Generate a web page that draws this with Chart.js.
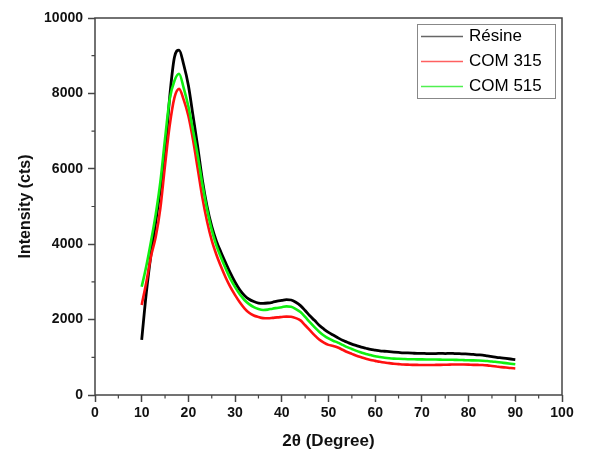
<!DOCTYPE html>
<html>
<head>
<meta charset="utf-8">
<script src="https://cdn.jsdelivr.net/npm/chart.js@4/dist/chart.umd.min.js"></script>
<style>
  html, body { margin: 0; padding: 0; background: #fff; }
  #xrd { display: block; }
</style>
</head>
<body>
<canvas id="xrd" width="589" height="457"></canvas>
<script>
// 2-theta positions (degrees)
const angles = [
  10, 11, 12, 13, 14, 15, 16, 17, 18, 19,
  20, 21, 22, 23, 24, 25, 26, 27, 28, 29,
  30, 31, 32, 33, 34, 35, 36, 37, 38, 39,
  40, 41, 42, 43, 44, 45, 46, 47, 48, 49,
  50, 51, 52, 53, 54, 55, 56, 57, 58, 59,
  60, 61, 62, 63, 64, 65, 66, 67, 68, 69,
  70, 71, 72, 73, 74, 75, 76, 77, 78, 79,
  80, 81, 82, 83, 84, 85, 86, 87, 88, 89, 90
];

const resine = [
  1460, 2725, 3740, 4590, 5460, 6410, 7910, 8950, 9150, 8760,
  8210, 7400, 6580, 5700, 5000, 4470, 4080, 3780, 3500, 3230,
  2990, 2790, 2640, 2540, 2480, 2440, 2430, 2440, 2460, 2490,
  2510, 2530, 2520, 2460, 2370, 2240, 2100, 1980, 1850, 1750,
  1660, 1590, 1520, 1450, 1400, 1350, 1310, 1270, 1240, 1210,
  1190, 1170, 1160, 1150, 1140, 1130, 1120, 1115, 1110, 1105,
  1105, 1100, 1100, 1100, 1105, 1100, 1105, 1100, 1095, 1090,
  1085, 1075, 1065, 1060, 1040, 1020, 1000, 985, 970, 955, 940
];

const com315 = [
  2390, 3000, 3680, 4190, 4960, 6100, 7150, 7880, 8120, 7830,
  7400, 6760, 6000, 5230, 4600, 4100, 3720, 3400, 3110, 2860,
  2650, 2460, 2300, 2180, 2110, 2070, 2040, 2035, 2045, 2060,
  2070, 2080, 2075, 2040, 1980, 1850, 1720, 1590, 1470, 1390,
  1330, 1300, 1260, 1200, 1140, 1090, 1040, 1000, 960, 930,
  905, 880, 860, 845, 830, 820, 810, 805, 800, 798,
  796, 795, 796, 798, 800, 803, 806, 810, 810, 808,
  805, 800, 798, 795, 785, 770, 755, 740, 728, 715, 705
];

const com515 = [
  2870, 3430, 4080, 4790, 5660, 6800, 7850, 8330, 8520, 8140,
  7650, 7010, 6350, 5590, 4930, 4380, 3960, 3640, 3350, 3080,
  2860, 2670, 2520, 2410, 2330, 2280, 2255, 2265, 2290, 2310,
  2330, 2350, 2340, 2280, 2200, 2070, 1930, 1800, 1680, 1580,
  1500, 1440, 1390, 1330, 1270, 1220, 1170, 1130, 1090, 1060,
  1030, 1010, 990, 975, 965, 960, 955, 950, 948, 946,
  945, 943, 940, 940, 938, 935, 935, 932, 930, 925,
  920, 918, 915, 910, 900, 890, 875, 860, 845, 830, 815
];

const seriesNames = ["Résine", "COM 315", "COM 515"];
const seriesColors = ["#000000", "#ff1010", "#10f010"];
const legendColors = ["#666666", "#ff6060", "#50f050"];

const xTicks = [0, 10, 20, 30, 40, 50, 60, 70, 80, 90, 100];
const yTicks = [0, 2000, 4000, 6000, 8000, 10000];

const FONT = "'Liberation Sans', Arial, sans-serif";
const AXIS = "#444";

function pts(ys) {
  return angles.map((a, i) => ({ x: a, y: ys[i] }));
}

// box frame, minor ticks and the boxed legend
const extras = {
  id: "extras",
  afterDraw(chart) {
    const { ctx, chartArea: a, scales } = chart;
    ctx.save();
    ctx.strokeStyle = AXIS;
    ctx.lineWidth = 1.5;
    ctx.strokeRect(a.left, a.top, a.right - a.left, a.bottom - a.top);

    ctx.lineWidth = 1.2;
    ctx.beginPath();
    for (let i = 0; i < xTicks.length - 1; i++) {
      const px = scales.x.getPixelForValue((xTicks[i] + xTicks[i + 1]) / 2);
      ctx.moveTo(px, a.bottom);
      ctx.lineTo(px, a.bottom + 3.5);
    }
    for (let i = 0; i < yTicks.length - 1; i++) {
      const py = scales.y.getPixelForValue((yTicks[i] + yTicks[i + 1]) / 2);
      ctx.moveTo(a.left, py);
      ctx.lineTo(a.left - 3.5, py);
    }
    ctx.stroke();

    // legend
    const bx = a.right - 145, by = a.top + 6, bw = 138, bh = 74;
    ctx.fillStyle = "#fff";
    ctx.fillRect(bx, by, bw, bh);
    ctx.strokeStyle = "#888";
    ctx.lineWidth = 1;
    ctx.strokeRect(bx + 0.5, by + 0.5, bw, bh);
    ctx.font = "17px " + FONT;
    ctx.textBaseline = "middle";
    seriesNames.forEach((name, i) => {
      const y = by + 12 + i * 25;
      ctx.strokeStyle = legendColors[i];
      ctx.lineWidth = 1.4;
      ctx.beginPath();
      ctx.moveTo(bx + 4, y + 0.5);
      ctx.lineTo(bx + 46, y + 0.5);
      ctx.stroke();
      ctx.fillStyle = "#000";
      ctx.fillText(name, bx + 52, y);
    });
    ctx.restore();
  }
};

new Chart(document.getElementById("xrd"), {
  type: "line",
  data: {
    datasets: [
      { label: seriesNames[0], data: pts(resine), borderColor: seriesColors[0], borderWidth: 2.8, order: 2 },
      { label: seriesNames[1], data: pts(com315), borderColor: seriesColors[1], borderWidth: 2.6, order: 1 },
      { label: seriesNames[2], data: pts(com515), borderColor: seriesColors[2], borderWidth: 2.6, order: 0 }
    ]
  },
  options: {
    responsive: false,
    animation: false,
    layout: { padding: { left: 0, right: 27, top: 18, bottom: 0 } },
    elements: { point: { radius: 0 }, line: { cubicInterpolationMode: "monotone" } },
    scales: {
      x: {
        type: "linear",
        min: 0,
        max: 100,
        afterBuildTicks: (s) => { s.ticks = xTicks.map((v) => ({ value: v })); },
        afterFit: (s) => { s.height = 62; },
        ticks: { color: "#111", font: { family: FONT, size: 14, weight: "bold" }, padding: 3, maxRotation: 0 },
        grid: { drawOnChartArea: false, tickLength: 7, tickColor: AXIS, tickWidth: 1.5 },
        border: { display: false },
        title: {
          display: true,
          text: "2θ (Degree)",
          color: "#111",
          font: { family: FONT, size: 17, weight: "bold" },
          padding: { top: 0, bottom: 5 }
        }
      },
      y: {
        min: 0,
        max: 10000,
        afterBuildTicks: (s) => { s.ticks = yTicks.map((v) => ({ value: v })); },
        afterFit: (s) => { s.width = 95; },
        ticks: {
          color: "#111",
          font: { family: FONT, size: 14, weight: "bold" },
          padding: 5,
          callback: (v) => String(v)
        },
        grid: { drawOnChartArea: false, tickLength: 7, tickColor: AXIS, tickWidth: 1.5 },
        border: { display: false },
        title: {
          display: true,
          text: "Intensity (cts)",
          color: "#111",
          font: { family: FONT, size: 16, weight: "bold" },
          padding: { top: 16, bottom: 0 }
        }
      }
    },
    plugins: {
      legend: { display: false },
      tooltip: { enabled: false }
    }
  },
  plugins: [extras]
});
</script>
</body>
</html>
